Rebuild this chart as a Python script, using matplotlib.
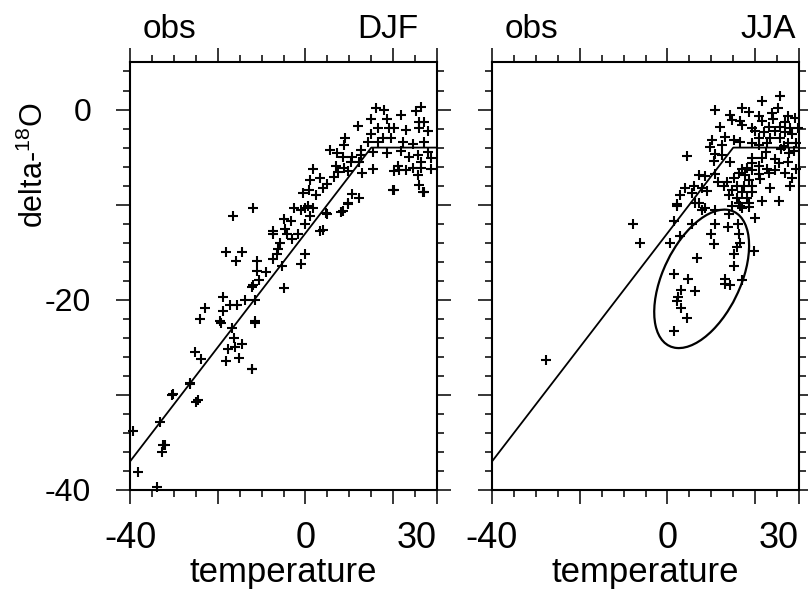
import matplotlib
matplotlib.use("Agg")
import matplotlib.pyplot as plt
from matplotlib.patches import Ellipse
from matplotlib.ticker import MultipleLocator, FixedLocator, FixedFormatter

plt.rcParams['font.family'] = ['Liberation Sans', 'DejaVu Sans']
plt.rcParams['mathtext.fontset'] = 'custom'
plt.rcParams['mathtext.rm'] = 'Liberation Sans'

# fitted relation (piecewise linear), same in both seasons
fit_t = [-40, 15, 35]
fit_d = [-37, -4, -4]

# DJF station values (temperature, delta-18O)
djf_t = [-39.3, -38.2, -33.8, -32.5, -32.7, -32.0, -33.1, -30.2, -26.3, -24.9,
         -25.1, -23.8, -18.1, -17.6, -16.0, -16.2, -14.4, -15.1, -12.3, -19.2,
         -11.4, -11.9, -16.5, -18.1, -14.4, -15.8, -11.0, -11.0, -9.1, -7.5,
         -6.4, -6.2, -5.7, -7.5, -7.3, -4.6, -4.1, -3.4, -5.0, -1.8,
         -3.0, -1.1, 0.0, 3.9, 5.0, 0.5, 1.8, 1.1, 0.0, -5.3,
         -10.7, -11.9, -12.1, -5.0, -11.4, -13.7, -18.7, -17.1, -15.5, -22.9,
         -18.7, -24.0, -19.4, -11.4, -16.7, 16.0, 17.8, 14.9, 18.7, 21.7,
         25.1, 26.3, 25.8, 27.0, 11.9, 16.5, 19.0, 20.1, 22.9, 25.8,
         27.9, 14.9, 17.6, 19.4, 9.1, 8.9, 22.2, 24.5, 27.0, 14.2,
         16.5, 12.6, 15.5, 18.7, 21.7, 23.5, 25.6, 27.9, 28.6, 26.3,
         5.7, 7.3, 8.5, 10.7, 12.6, 12.1, 10.3, 6.9, 8.7, 15.3,
         21.0, 21.3, 22.9, 20.1, 24.5, 26.3, 28.6, 25.6, 25.8, 27.0,
         20.1, 1.8, 7.5, 9.8, 13.0, 6.4, 3.4, 1.1, 5.0, 0.7,
         -0.5, 2.3, 4.1, 10.7, 12.1, 9.8, 8.5, -2.7, 0.0, 4.6,
         -1.1, 3.4, 8.0, 9.8, -30.4, -26.3, -24.5, -12.1, 26.7, 19.9]
djf_d = [-33.8, -38.1, -39.7, -35.3, -36.0, -35.3, -32.8, -29.9, -28.8, -30.7,
         -25.5, -26.2, -26.4, -25.2, -25.0, -24.0, -24.6, -26.1, -27.3, -22.4,
         -22.4, -10.4, -11.2, -15.0, -15.0, -15.9, -15.9, -17.0, -17.1, -15.7,
         -15.2, -14.7, -14.0, -12.8, -13.1, -12.6, -13.1, -11.7, -11.5, -13.1,
         -13.6, -16.2, -15.2, -12.7, -11.0, -10.1, -10.3, -11.2, -12.0, -16.5,
         -17.9, -18.4, -18.7, -18.8, -20.0, -20.0, -19.7, -20.5, -20.6, -20.9,
         -21.2, -22.0, -22.2, -22.2, -23.0, 0.2, 0.0, -1.0, -1.0, -0.6,
         -0.2, 0.3, -1.3, -1.3, -1.7, -1.9, -1.9, -1.9, -2.1, -1.9,
         -2.3, -2.6, -3.0, -3.0, -3.0, -3.7, -3.4, -3.6, -3.4, -3.4,
         -3.4, -4.3, -4.5, -4.6, -4.4, -5.0, -4.8, -4.5, -5.1, -5.5,
         -4.3, -4.6, -5.0, -5.0, -4.8, -5.5, -5.5, -5.9, -6.1, -6.2,
         -5.9, -6.4, -6.4, -6.5, -6.1, -6.1, -6.2, -6.9, -7.9, -8.7,
         -8.5, -6.2, -6.6, -6.5, -6.7, -7.1, -7.2, -7.4, -7.8, -8.5,
         -8.8, -9.0, -8.3, -8.9, -9.3, -9.8, -10.7, -10.3, -10.3, -10.9,
         -10.6, -12.8, -10.8, -9.9, -30.0, -28.9, -30.5, -27.3, -8.7, -8.5]

# JJA station values (temperature, delta-18O)
jja_t = [21.6, 25.7, 17.0, 25.3, 10.8, 14.3, 20.9, 23.9, 27.4, 29.0,
         14.7, 16.6, 21.6, 26.7, 12.0, 17.0, 19.3, 23.2, 25.7, 28.0,
         29.7, 20.0, 22.1, 24.6, 26.9, 28.5, 20.9, 23.4, 25.7, 13.1,
         15.2, 16.6, 10.1, 9.7, 12.4, 19.3, 20.9, 22.8, 27.4, 29.2,
         4.4, 10.8, 12.4, 19.3, 21.6, 27.8, 10.6, 14.3, 19.3, 20.9,
         25.5, 27.4, 17.0, 18.2, 19.3, 22.8, 24.6, 29.2, 16.3, 17.7,
         20.9, 23.2, 26.9, 7.1, 8.5, 10.8, 15.2, 18.6, 21.1, 28.5,
         6.0, 7.8, 12.9, 15.9, 17.5, 19.3, 23.4, 28.0, 3.9, 14.7,
         17.0, 19.3, 2.8, 5.5, 14.0, 15.9, 18.2, 21.6, 25.5, 2.1,
         7.1, 16.3, 18.6, 14.7, 17.0, 6.2, 7.8, 2.1, -7.8, -6.2,
         0.5, 1.6, 2.8, 5.5, 8.5, 10.8, 14.0, 16.6, 18.6, 20.0,
         10.8, 13.8, 16.1, 16.3, 9.9, 10.6, 16.6, 15.9, 19.8, 15.2,
         6.7, 15.2, 1.6, 4.6, 13.1, 17.0, 13.1, 14.3, 6.2, 3.2,
         2.5, 2.1, 3.2, 4.4, 1.6, -27.8,
         18.5, 24.0, 26.0, 22.5, 13.5, 11.5, 9.0, 24.5, 26.5, 28.8]
jja_d = [0.9, 1.4, 0.2, 0.2, 0.0, -0.6, -0.7, -0.4, -0.7, -0.9,
         -1.1, -1.2, -1.2, -1.3, -1.8, -1.6, -1.9, -1.8, -1.8, -1.9,
         -1.9, -2.3, -2.4, -2.3, -2.4, -2.6, -3.0, -3.0, -3.0, -2.9,
         -3.2, -3.4, -3.2, -3.9, -3.7, -3.5, -3.7, -3.5, -3.5, -3.5,
         -4.9, -4.7, -4.8, -5.1, -5.1, -4.6, -5.4, -5.5, -5.6, -5.9,
         -5.6, -5.5, -6.2, -6.1, -6.4, -6.2, -6.4, -6.2, -6.7, -6.9,
         -6.8, -6.7, -6.7, -6.9, -7.0, -6.8, -7.2, -7.4, -7.3, -7.2,
         -8.0, -8.2, -8.0, -8.0, -8.0, -8.0, -8.2, -8.0, -8.3, -8.5,
         -8.7, -8.7, -9.0, -8.8, -9.0, -9.3, -9.3, -9.6, -9.6, -9.9,
         -9.8, -9.8, -9.8, -10.1, -10.3, -9.8, -10.6, -10.1, -12.0, -14.0,
         -14.0, -11.7, -13.3, -12.0, -10.4, -10.6, -11.0, -10.1, -10.2, -11.4,
         -12.0, -12.4, -12.0, -13.1, -13.1, -14.1, -14.0, -14.4, -14.9, -15.2,
         -15.6, -16.5, -17.3, -17.8, -17.8, -17.9, -18.3, -18.4, -19.1, -19.0,
         -19.7, -20.1, -20.9, -21.9, -23.3, -26.3,
         -0.3, -1.0, -4.2, -4.5, -7.6, -7.6, -8.6, -5.2, -3.8, -4.4]

# outlier group circled in the JJA panel: centre, axes, tilt (data units)
ell_centre = (7.8, -17.8)
ell_size = (23.2, 11.9)
ell_angle = 24.9

fig = plt.figure(figsize=(8.08, 5.92), dpi=100)
ax1 = fig.add_axes([0.1609, 0.1723, 0.380, 0.723])
ax2 = fig.add_axes([0.6089, 0.1723, 0.380, 0.723])

panels = [(ax1, djf_t, djf_d, 'DJF'), (ax2, jja_t, jja_d, 'JJA')]
for ax, tt, dd, season in panels:
    ax.plot(tt, dd, '+', color='black', ms=7, mew=1.5, clip_on=False)
    ax.plot(fit_t, fit_d, '-', color='black', lw=1.3)
    ax.set_xlim(-40, 30)
    ax.set_ylim(-40, 5)
    for sp in ax.spines.values():
        sp.set_linewidth(1.5)
    ax.xaxis.set_major_locator(FixedLocator([-40, -20, 0, 20, 30]))
    ax.xaxis.set_major_formatter(FixedFormatter(['-40', '', '0', '', '30']))
    ax.xaxis.set_minor_locator(MultipleLocator(5))
    ax.yaxis.set_major_locator(FixedLocator([-40, -30, -20, -10, 0]))
    ax.yaxis.set_major_formatter(FixedFormatter(['-40', '', '-20', '', '0']))
    ax.yaxis.set_minor_locator(MultipleLocator(2))
    ax.tick_params(which='both', direction='out', top=True, right=True,
                   width=1.1, color='black')
    ax.tick_params(which='major', length=10)
    ax.tick_params(which='minor', length=5)
    ax.tick_params(axis='x', labelsize=26, pad=12)
    ax.tick_params(axis='y', labelsize=23, pad=18)
    ax.get_xticklabels()[-1].set_horizontalalignment('right')
    ax.set_xlabel('temperature', fontsize=25, labelpad=0)
    ax.text(0.04, 1.04, 'obs', transform=ax.transAxes, fontsize=24,
            ha='left', va='bottom')
    ax.text(0.94 if season == 'DJF' else 0.99, 1.04, season,
            transform=ax.transAxes, fontsize=24, ha='right', va='bottom')

ax2.tick_params(axis='y', labelleft=False)
ax2.add_patch(Ellipse(ell_centre, ell_size[0], ell_size[1], angle=ell_angle,
                      fill=False, lw=1.6, color='black'))

fig.text(0.043, 0.72, 'delta-$\\mathregular{^{18}}$O', rotation=90,
         fontsize=22, ha='center', va='center')

fig.savefig('out.png', dpi=100)
